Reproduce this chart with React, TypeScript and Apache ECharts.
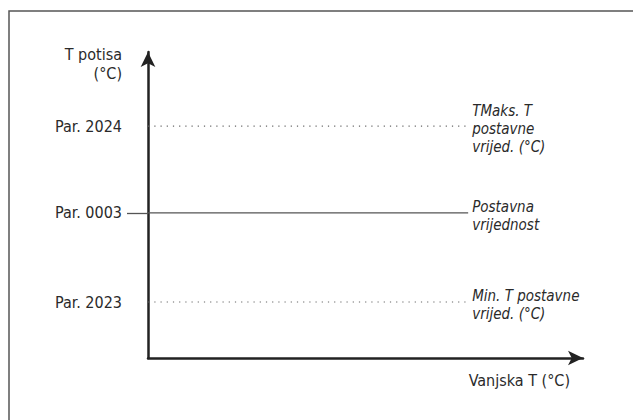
import React, { useEffect, useRef } from "react";
import * as echarts from "echarts";

const levelNames = ["Par. 2023", "Par. 0003", "Par. 2024"];
const levelValues = [18.3, 47.4, 75.8];
const levelTexts = ["Min. T postavne\nvrijed. (°C)", "Postavna\nvrijednost", "TMaks. T\npostavne\nvrijed. (°C)"];
const levelStyles = ["dotted", "solid", "dotted"];
const lineStart = -1.4;
const lineEnd = 73.6;
const yName = "T potisa\n(°C)";
const xName = "Vanjska T (°C)";

const FONT = "'Liberation Sans Narrow', 'Arial Narrow', 'DejaVu Sans Condensed', sans-serif";
const FS = 16;

export default function App() {
  const ref = useRef<HTMLDivElement>(null);
  useEffect(() => {
    if (!ref.current) return;
    const chart = echarts.init(ref.current, undefined, { renderer: "svg" });
    const series = levelValues.map((v, i) => ({
      type: "line",
      name: levelNames[i],
      clip: false,
      symbol: "none",
      silent: true,
      lineStyle: {
        color: levelStyles[i] === "solid" ? "#555" : "#666",
        width: levelStyles[i] === "solid" ? 1.3 : 1.2,
        type: levelStyles[i] === "solid" ? "solid" : [1.2, 5],
      },
      endLabel: {
        show: true,
        distance: 4,
        formatter: levelTexts[i],
        fontFamily: FONT,
        fontStyle: "italic",
        fontSize: 15,
        lineHeight: 18,
        color: "#2a2a2a",
        verticalAlign: "middle",
        align: "left",
        offset: [0, 3],
      },
      data: [
        [lineStart, v],
        [lineEnd, v],
      ],
    }));
    chart.setOption({
      animation: false,
      grid: { left: 148, right: 50, top: 52, bottom: 62, containLabel: false },
      xAxis: {
        type: "value",
        min: 0,
        max: 100,
        name: xName,
        nameLocation: "end",
        nameGap: 0,
        nameTextStyle: {
          fontFamily: FONT,
          fontSize: FS,
          color: "#2a2a2a",
          align: "right",
          verticalAlign: "top",
          padding: [14, 13, 0, 0],
        },
        axisLine: {
          show: true,
          symbol: ["none", "arrow"],
          symbolSize: [11, 15],
          lineStyle: { color: "#222", width: 2.5 },
        },
        axisTick: { show: false },
        axisLabel: { show: false },
        splitLine: { show: false },
      },
      yAxis: {
        type: "value",
        min: 0,
        max: 100,
        name: yName,
        nameLocation: "end",
        nameGap: 7,
        nameTextStyle: {
          fontFamily: FONT,
          fontSize: FS,
          lineHeight: 19,
          color: "#2a2a2a",
          align: "right",
          verticalAlign: "top",
          padding: [0, 26, 0, 0],
        },
        axisLine: {
          show: true,
          symbol: ["none", "arrow"],
          symbolSize: [11, 15],
          lineStyle: { color: "#222", width: 2.5 },
        },
        axisTick: {
          show: true,
          customValues: [levelValues[1]],
          length: 21,
          lineStyle: { color: "#555", width: 1.3 },
        },
        axisLabel: {
          show: true,
          customValues: levelValues,
          margin: 26,
          fontFamily: FONT,
          fontSize: FS,
          color: "#2a2a2a",
          formatter: (val: number) => {
            const idx = levelValues.indexOf(val);
            return idx >= 0 ? levelNames[idx] : "";
          },
        },
        splitLine: { show: false },
      },
      graphic: [
        {
          type: "rect",
          shape: { x: 9, y: 11, width: 700, height: 500 },
          style: { fill: "none", stroke: "#555", lineWidth: 1.5 },
          silent: true,
        },
      ],
      series,
    });
    return () => chart.dispose();
  }, []);
  return (
    <div
      ref={ref}
      style={{ position: "fixed", left: 0, top: 0, width: 633, height: 420, background: "#fff" }}
    />
  );
}
